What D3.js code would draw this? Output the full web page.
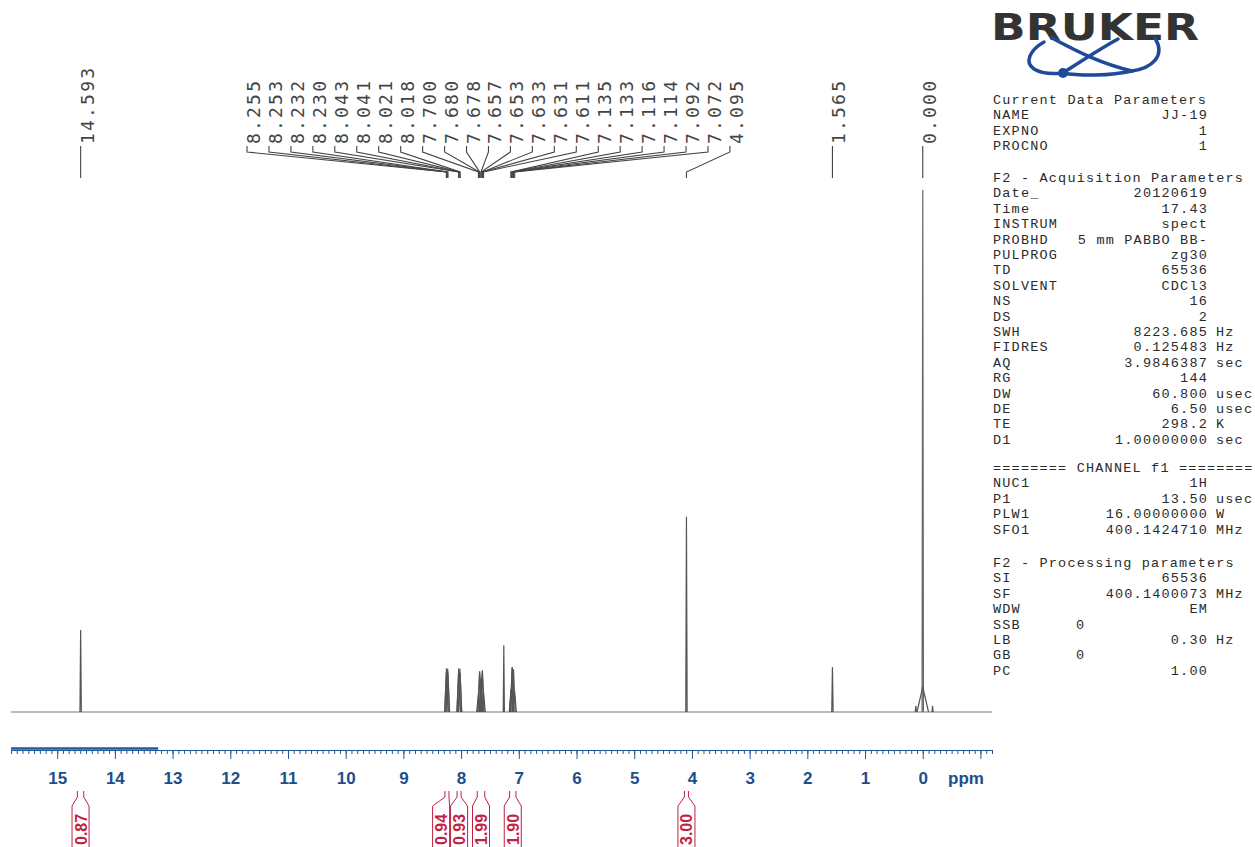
<!DOCTYPE html>
<html>
<head>
<meta charset="utf-8">
<script src="https://cdn.jsdelivr.net/npm/d3@7"></script>
<style>
  body { margin: 0; background: #fff; }
  svg { display: block; }
</style>
</head>
<body>
<div id="chart"></div>
<script>
// spectrum lines (ppm, relative height 0-100, half width in ppm)
const peakPpm = [14.593, 8.255, 8.253, 8.232, 8.230, 8.043, 8.041, 8.021, 8.018,
  7.700, 7.680, 7.678, 7.657, 7.653, 7.633, 7.631, 7.611, 7.260,
  7.135, 7.133, 7.116, 7.114, 7.092, 7.072, 4.095, 1.565, 0.120, 0.000, 0.000, -0.170];
const peakHeight = [15.7, 7.6, 8.4, 8.3, 7.5, 7.6, 8.4, 8.3, 7.5,
  3.6, 7.8, 7.5, 6.2, 6.6, 8.0, 7.8, 3.8, 12.8,
  4.2, 4.4, 8.5, 8.6, 8.2, 3.9, 37.4, 8.6, 1.2, 100, 4.8, 1.2];
const peakWidth = [0.012, 0.03, 0.03, 0.03, 0.03, 0.03, 0.03, 0.03, 0.03,
  0.03, 0.03, 0.03, 0.03, 0.03, 0.03, 0.03, 0.03, 0.01,
  0.03, 0.03, 0.03, 0.03, 0.03, 0.03, 0.012, 0.012, 0.01, 0.012, 0.1, 0.01];

// picked peak labels
const labelPpm = [14.593, 8.255, 8.253, 8.232, 8.230, 8.043, 8.041, 8.021, 8.018,
  7.700, 7.680, 7.678, 7.657, 7.653, 7.633, 7.631, 7.611,
  7.135, 7.133, 7.116, 7.114, 7.092, 7.072, 4.095, 1.565, 0.000];

// integrals
const integralFrom = [14.65, 8.28, 8.07, 7.72, 7.16, 4.13];
const integralTo = [14.54, 8.21, 8.00, 7.59, 7.05, 4.06];
const integralValue = ["0.87", "0.94", "0.93", "1.99", "1.90", "3.00"];

// axis ticks
const majorTicks = d3.range(-1, 16);
const minorTicks = d3.range(-12, 159).map(i => i / 10);

// parameter table: [label, value, unit, align]
const currentParams = [
  ["Current Data Parameters"],
  ["NAME", "JJ-19"], ["EXPNO", "1"], ["PROCNO", "1"]
];
const acquParams = [
  ["F2 - Acquisition Parameters"],
  ["Date_", "20120619"], ["Time", "17.43"], ["INSTRUM", "spect"],
  ["PROBHD", "5 mm PABBO BB-"], ["PULPROG", "zg30"], ["TD", "65536"],
  ["SOLVENT", "CDCl3"], ["NS", "16"], ["DS", "2"],
  ["SWH", "8223.685", "Hz"], ["FIDRES", "0.125483", "Hz"], ["AQ", "3.9846387", "sec"],
  ["RG", "144"], ["DW", "60.800", "usec"], ["DE", "6.50", "usec"],
  ["TE", "298.2", "K"], ["D1", "1.00000000", "sec"]
];
const channelParams = [
  ["======== CHANNEL f1 ========"],
  ["NUC1", "1H"], ["P1", "13.50", "usec"], ["PLW1", "16.00000000", "W"],
  ["SFO1", "400.1424710", "MHz"]
];
const procParams = [
  ["F2 - Processing parameters"],
  ["SI", "65536"], ["SF", "400.1400073", "MHz"], ["WDW", "EM"],
  ["SSB", "0", "", "l"], ["LB", "0.30", "Hz"], ["GB", "0", "", "l"], ["PC", "1.00"]
];

const W = 1255, H = 847;
const svg = d3.select("#chart").append("svg").attr("width", W).attr("height", H);

const x = d3.scaleLinear().domain([15.8, -1.2]).range([11, 992]);
const y = d3.scaleLinear().domain([0, 100]).range([712, 190]);

const line = d3.line().x(d => x(d[0])).y(d => y(d[1]));

// spectrum
const spec = svg.append("g").attr("fill", "none").attr("stroke", "#5a5a5a").attr("stroke-width", 1.2);
spec.append("path").attr("d", line([[15.8, 0], [-1.2, 0]])).attr("stroke", "#777");
peakPpm.forEach((p, i) => {
  const w = peakWidth[i];
  spec.append("path")
    .attr("d", line([[p + w, 0], [p, peakHeight[i]], [p - w, 0]]))
    .attr("stroke", peakHeight[i] > 50 ? "#666" : "#555");
});

// axis
const axisColor = "#23589b";
const axisY = 750;
const ax = svg.append("g").attr("transform", `translate(0,${axisY})`);
ax.append("g").call(d3.axisBottom(x).tickValues(minorTicks).tickSize(4).tickSizeOuter(0).tickFormat(""));
ax.append("g").call(d3.axisBottom(x).tickValues(majorTicks).tickSize(9).tickSizeOuter(0).tickPadding(13)
  .tickFormat(d => d >= 0 ? d : ""));
ax.selectAll("path, line").attr("stroke", axisColor);
ax.selectAll("text").attr("fill", "#1d4e8c").attr("font-family", "Liberation Sans, Arial, sans-serif")
  .attr("font-weight", "bold").attr("font-size", 17);
ax.append("path").attr("d", `M${x(15.8)},-1.5H${x(13.25)}`).attr("stroke", axisColor).attr("stroke-width", 2.5);
svg.append("text").attr("x", 948).attr("y", 784).text("ppm")
  .attr("fill", "#1d4e8c").attr("font-family", "Liberation Sans, Arial, sans-serif")
  .attr("font-weight", "bold").attr("font-size", 17);

// peak labels with spread layout
const gap = 21.95;
const nat = labelPpm.map(p => x(p));
let clusters = nat.map((v, i) => ({ idx: [i], center: v }));
let merged = true;
while (merged) {
  merged = false;
  for (let i = 0; i < clusters.length - 1; i++) {
    const a = clusters[i], b = clusters[i + 1];
    const aEnd = a.center + (a.idx.length - 1) / 2 * gap;
    const bStart = b.center - (b.idx.length - 1) / 2 * gap;
    if (bStart - aEnd < gap) {
      const idx = a.idx.concat(b.idx);
      clusters.splice(i, 2, { idx, center: d3.mean(idx, j => nat[j]) });
      merged = true;
      break;
    }
  }
}
const pos = [];
clusters.forEach(c => c.idx.forEach((j, k) => { pos[j] = c.center + (k - (c.idx.length - 1) / 2) * gap; }));

const lab = svg.append("g");
labelPpm.forEach((p, i) => {
  const lx = pos[i], px = nat[i];
  const d = Math.abs(lx - px) < 0.5
    ? `M${px},146V178`
    : `M${lx},146V152L${px},172V178`;
  lab.append("path").attr("d", d).attr("fill", "none").attr("stroke", "#444").attr("stroke-width", 1.1);
  lab.append("text")
    .attr("transform", `translate(${lx + 13},144) rotate(-90)`)
    .attr("font-family", "DejaVu Sans Mono, monospace").attr("font-size", 18)
    .attr("letter-spacing", 2.2)
    .attr("fill", "#444").text(p.toFixed(3));
});

// integrals
const red = "#c21f45";
const boxX = integralFrom.map((f, i) => x((f + integralTo[i]) / 2));
for (let i = boxX.length - 2; i >= 0; i--) {
  if (boxX[i + 1] - boxX[i] < 18) boxX[i] = boxX[i + 1] - 18;
}
const integ = svg.append("g");
integralValue.forEach((v, i) => {
  const cx = boxX[i];
  let xa = x(integralFrom[i]), xb = x(integralTo[i]);
  if (xb - xa < 4) { const m = (xa + xb) / 2; xa = m - 2; xb = m + 2; }
  integ.append("path")
    .attr("d", `M${xa},791V797L${cx - 8.5},806V850M${xb},791V797L${cx + 8.5},806V850`)
    .attr("fill", "none").attr("stroke", red).attr("stroke-width", 1);
  integ.append("text")
    .attr("transform", `translate(${cx + 6},845) rotate(-90)`)
    .attr("font-family", "Liberation Sans, Arial, sans-serif").attr("font-weight", "bold")
    .attr("font-size", 16).attr("fill", red).text(v);
});

// logo
const logo = svg.append("g");
logo.append("text").attr("x", 991).attr("y", 40).text("BRUKER")
  .attr("font-family", "DejaVu Sans, sans-serif").attr("font-weight", "bold").attr("font-size", 37)
  .attr("textLength", 208).attr("lengthAdjust", "spacingAndGlyphs").attr("fill", "#333");
const blue = "#1f4a9a";
const sw = logo.append("g").attr("fill", "none").attr("stroke", blue).attr("stroke-width", 3.5).attr("stroke-linecap", "round");
sw.append("path").attr("d", "M1044,42C1030,50 1024,62 1034,69C1042,74 1054,74 1063,73");
sw.append("path").attr("d", "M1052,38C1078,52 1102,64 1132,71");
sw.append("path").attr("d", "M1118,39C1098,50 1080,62 1063,73");
sw.append("path").attr("d", "M1063,73C1080,76 1110,76 1132,71C1152,68 1166,56 1155,38");
logo.append("circle").attr("cx", 1063).attr("cy", 73).attr("r", 5).attr("fill", blue);

// parameter table
const tbl = svg.append("g").attr("font-family", "Liberation Mono, monospace")
  .attr("font-size", 13.5).attr("letter-spacing", 1.2).attr("fill", "#2b2b2b").style("white-space", "pre");
const step = 15.4;
[[currentParams, 99], [acquParams, 177], [channelParams, 467], [procParams, 562]].forEach(([rows, y0]) => {
  rows.forEach((r, k) => {
    const yy = y0 + k * step + 5;
    tbl.append("text").attr("x", 993).attr("y", yy).text(r[0]);
    if (r[1] !== undefined) {
      if (r[3] === "l") {
        tbl.append("text").attr("x", 1076).attr("y", yy).text(r[1]);
      } else {
        tbl.append("text").attr("x", 1208).attr("y", yy).attr("text-anchor", "end").text(r[1]);
      }
    }
    if (r[2]) tbl.append("text").attr("x", 1216).attr("y", yy).text(r[2]);
  });
});
</script>
</body>
</html>
